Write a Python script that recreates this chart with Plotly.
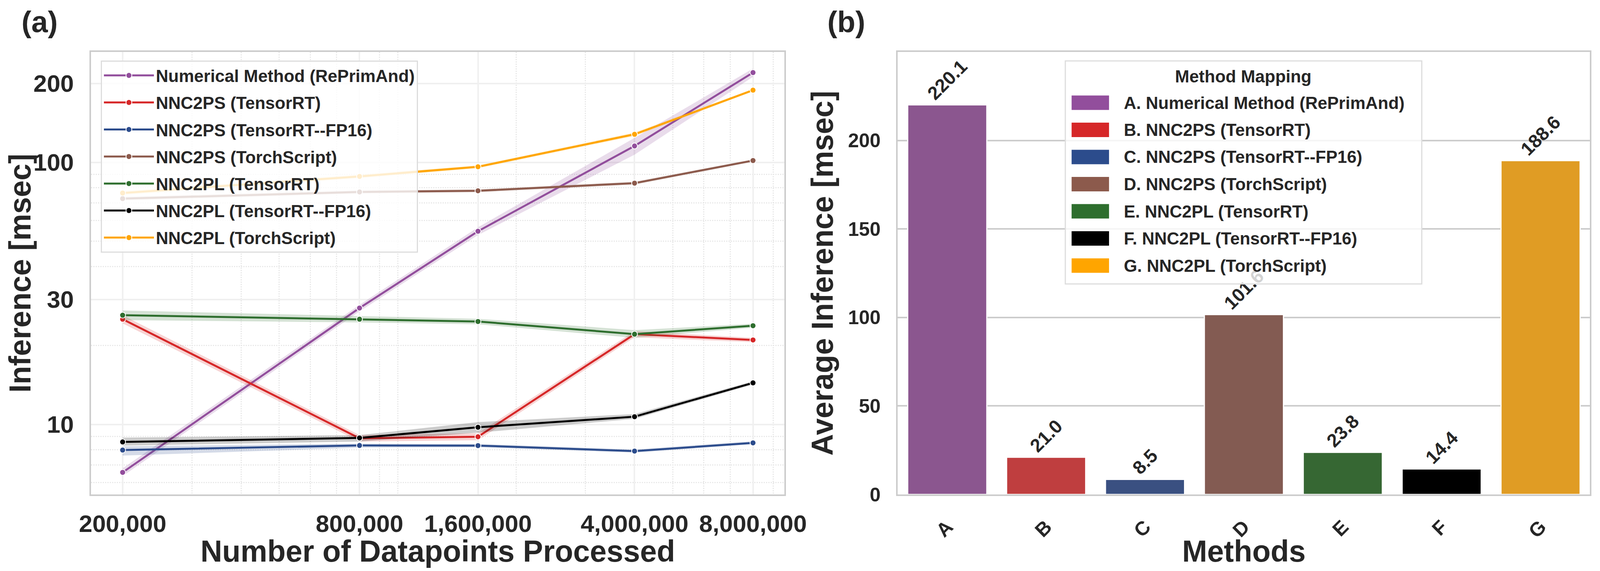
import plotly.graph_objects as go

# ---- data ----
datapoints = [200000, 800000, 1600000, 4000000, 8000000]
datapoint_labels = ["200,000", "800,000", "1,600,000", "4,000,000", "8,000,000"]

series_names = [
    "Numerical Method (RePrimAnd)",
    "NNC2PS (TensorRT)",
    "NNC2PS (TensorRT--FP16)",
    "NNC2PS (TorchScript)",
    "NNC2PL (TensorRT)",
    "NNC2PL (TensorRT--FP16)",
    "NNC2PL (TorchScript)",
]

numerical = [6.56, 27.8, 54.6, 115.5, 220.1]
numerical_lo = [6.35, 27.0, 52.8, 107.0, 212.0]
numerical_hi = [6.80, 28.6, 56.5, 124.0, 228.0]

nnc2ps_trt = [25.2, 8.85, 8.97, 22.1, 21.0]
nnc2ps_trt_lo = [24.3, 8.6, 8.7, 21.5, 20.6]
nnc2ps_trt_hi = [26.1, 9.1, 9.25, 22.7, 21.4]

nnc2ps_fp16 = [7.98, 8.31, 8.30, 7.91, 8.5]
nnc2ps_fp16_lo = [7.60, 8.15, 8.18, 7.80, 8.40]
nnc2ps_fp16_hi = [8.25, 8.45, 8.42, 8.02, 8.62]

nnc2ps_ts = [72.7, 77.1, 77.9, 83.3, 101.6]
nnc2ps_ts_lo = [71.5, 76.0, 76.9, 82.2, 100.5]
nnc2ps_ts_hi = [73.9, 78.2, 78.9, 84.4, 102.7]

nnc2pl_trt = [26.1, 25.2, 24.7, 22.1, 23.8]
nnc2pl_trt_lo = [25.0, 24.5, 24.1, 21.4, 23.4]
nnc2pl_trt_hi = [27.2, 25.9, 25.3, 22.9, 24.2]

nnc2pl_fp16 = [8.57, 8.88, 9.75, 10.7, 14.4]
nnc2pl_fp16_lo = [8.30, 8.60, 9.30, 10.5, 14.2]
nnc2pl_fp16_hi = [8.90, 9.10, 10.2, 10.95, 14.6]

nnc2pl_ts = [76.4, 88.4, 96.2, 128.0, 188.6]
nnc2pl_ts_lo = [75.0, 87.0, 95.0, 126.0, 186.5]
nnc2pl_ts_hi = [77.8, 89.8, 97.4, 130.0, 190.7]

method_letters = ["A", "B", "C", "D", "E", "F", "G"]
avg_inference = [220.1, 21.0, 8.5, 101.6, 23.8, 14.4, 188.6]

y_ticks_a = [10, 30, 100, 200]
y_minor_a = [6, 7, 8, 9, 20, 40, 50, 60, 70, 80, 90]
x_minor_a = [300000, 400000, 500000, 600000, 700000, 900000, 1000000,
             2000000, 3000000, 5000000, 6000000, 7000000, 9000000]
y_ticks_b = [0, 50, 100, 150, 200]

# ---- styles ----
line_colors = ["#924E9C", "#D62728", "#2C4C8C", "#8C5A4C", "#2E6E2E", "#000000", "#FFA500"]
band_colors = ["rgba(146,78,156,0.2)", "rgba(214,39,40,0.2)", "rgba(44,76,140,0.2)",
               "rgba(140,90,76,0.2)", "rgba(46,110,46,0.2)", "rgba(0,0,0,0.2)",
               "rgba(255,165,0,0.2)"]
bar_colors = ["#8B568F", "#BF3E3F", "#3A5081", "#835B52", "#366733", "#000000", "#E09C24"]

FONT = "Liberation Sans, Arial, sans-serif"
TXT = "#262626"

# page is 4096 wide with an 8px body margin; layout measured on a 4318x1462 picture
FW, FH = 4080, 1446
SX = 4096 / 4318


def px(x):
    return (x * SX - 8) / FW


def py(y):
    return 1 - (y - 8) / FH


series = [
    (numerical, numerical_lo, numerical_hi),
    (nnc2ps_trt, nnc2ps_trt_lo, nnc2ps_trt_hi),
    (nnc2ps_fp16, nnc2ps_fp16_lo, nnc2ps_fp16_hi),
    (nnc2ps_ts, nnc2ps_ts_lo, nnc2ps_ts_hi),
    (nnc2pl_trt, nnc2pl_trt_lo, nnc2pl_trt_hi),
    (nnc2pl_fp16, nnc2pl_fp16_lo, nnc2pl_fp16_hi),
    (nnc2pl_ts, nnc2pl_ts_lo, nnc2pl_ts_hi),
]

fig = go.Figure()

# (a) line plot with confidence bands
for i, (name, (vals, lo, hi)) in enumerate(zip(series_names, series)):
    grp = f"s{i}"
    fig.add_trace(go.Scatter(x=datapoints, y=lo, mode="lines", line=dict(width=0),
                             showlegend=False, legendgroup=grp, hoverinfo="skip",
                             xaxis="x", yaxis="y"))
    fig.add_trace(go.Scatter(x=datapoints, y=hi, mode="lines", line=dict(width=0),
                             fill="tonexty", fillcolor=band_colors[i],
                             showlegend=False, legendgroup=grp, hoverinfo="skip",
                             xaxis="x", yaxis="y"))
    fig.add_trace(go.Scatter(
        x=datapoints, y=vals, mode="lines+markers", name=name, legendgroup=grp,
        line=dict(color=line_colors[i], width=5),
        marker=dict(size=15, color=line_colors[i], line=dict(color="white", width=2)),
        xaxis="x", yaxis="y"))

# (b) bar chart
fig.add_trace(go.Bar(
    x=method_letters, y=avg_inference,
    marker=dict(color=bar_colors, line=dict(color="white", width=3)),
    text=[f"{v:.1f}" for v in avg_inference], textposition="outside", textangle=-45,
    textfont=dict(family=FONT, size=48, color=TXT, weight="bold"),
    constraintext="none", cliponaxis=False, showlegend=False, xaxis="x2", yaxis="y2"))

ydom = [py(1266), py(133)]
axis_common = dict(showline=True, mirror=True, linecolor="#CCCCCC", linewidth=4,
                   ticks="", zeroline=False, automargin=False)
tick_a = dict(family=FONT, size=62, color=TXT, weight="bold")
tick_b = dict(family=FONT, size=50, color=TXT, weight="bold")
title_font = dict(family=FONT, size=77, color=TXT, weight="bold")

fig.update_layout(
    width=FW, height=FH, margin=dict(l=0, r=0, t=0, b=0),
    paper_bgcolor="white", plot_bgcolor="white",
    font=dict(family=FONT, color=TXT),
    bargap=0.2,
    xaxis=dict(
        domain=[px(246), px(2117)], type="log", range=[5.221, 6.983],
        tickvals=datapoints, ticktext=datapoint_labels, ticklabelstandoff=18,
        tickfont=tick_a,
        showgrid=True, gridcolor="#F0F0F0", gridwidth=4,
        minor=dict(tickvals=x_minor_a, showgrid=True, gridcolor="#E8E8E8", gridwidth=3, griddash="dot"),
        title=dict(text="Number of Datapoints Processed", standoff=30, font=title_font),
        **axis_common),
    yaxis=dict(
        domain=ydom, type="log", range=[0.7326, 2.4214],
        tickvals=y_ticks_a, ticktext=[str(v) for v in y_ticks_a], ticklabelstandoff=28,
        tickfont=tick_a,
        showgrid=True, gridcolor="#F0F0F0", gridwidth=4,
        minor=dict(tickvals=y_minor_a, showgrid=True, gridcolor="#E8E8E8", gridwidth=3, griddash="dot"),
        title=dict(text="Inference [msec]", standoff=10, font=title_font),
        **axis_common),
    xaxis2=dict(
        domain=[px(2423), px(4291)], anchor="y2", range=[-0.5, 6.5],
        tickangle=-45, showgrid=False, ticklabelstandoff=30, tickfont=tick_b,
        title=dict(text="Methods", standoff=22, font=title_font),
        **axis_common),
    yaxis2=dict(
        domain=ydom, anchor="x2", range=[0, 250], tickvals=y_ticks_b, ticklabelstandoff=30,
        tickfont=tick_b, showgrid=True, gridcolor="#CCCCCC", gridwidth=4,
        title=dict(text="Average Inference [msec]", standoff=14, font=title_font),
        **axis_common),
    legend=dict(
        x=px(272), y=py(155), xanchor="left", yanchor="top",
        bgcolor="rgba(255,255,255,0.8)", bordercolor="#DDDDDD", borderwidth=3,
        font=dict(family=FONT, size=44, color=TXT, weight="bold"),
        itemwidth=128, tracegroupgap=9, traceorder="grouped"),
)

# panel labels
for label, xr in [("(a)", 107), ("(b)", 2284)]:
    fig.add_annotation(text=label, x=px(xr), y=py(56), xref="paper", yref="paper",
                       xanchor="center", yanchor="middle", showarrow=False,
                       font=dict(family=FONT, size=76, color=TXT, weight="bold"))

# method mapping legend for (b)
box_l, box_r, box_t, box_b = 2875, 3837, 156, 727
fig.add_shape(type="rect", xref="paper", yref="paper", layer="above",
              x0=px(box_l), x1=px(box_r), y0=py(box_b), y1=py(box_t),
              fillcolor="rgba(255,255,255,0.8)", line=dict(color="#DDDDDD", width=3))
fig.add_annotation(text="Method Mapping", x=px((box_l + box_r) / 2), y=py(196),
                   xref="paper", yref="paper", xanchor="center", yanchor="middle",
                   showarrow=False, font=dict(family=FONT, size=44, color=TXT, weight="bold"))
for i, (letter, name) in enumerate(zip(method_letters, series_names)):
    yc = 263 + i * 69.5
    fig.add_shape(type="rect", xref="paper", yref="paper", layer="above",
                  x0=px(2892), x1=px(2993), y0=py(yc + 18.5), y1=py(yc - 18.5),
                  fillcolor=line_colors[i], line=dict(width=0))
    fig.add_annotation(text=f"{letter}. {name}", x=px(3031), y=py(yc),
                       xref="paper", yref="paper", xanchor="left", yanchor="middle",
                       showarrow=False, font=dict(family=FONT, size=44, color=TXT, weight="bold"))

fig.write_html("out.html")
